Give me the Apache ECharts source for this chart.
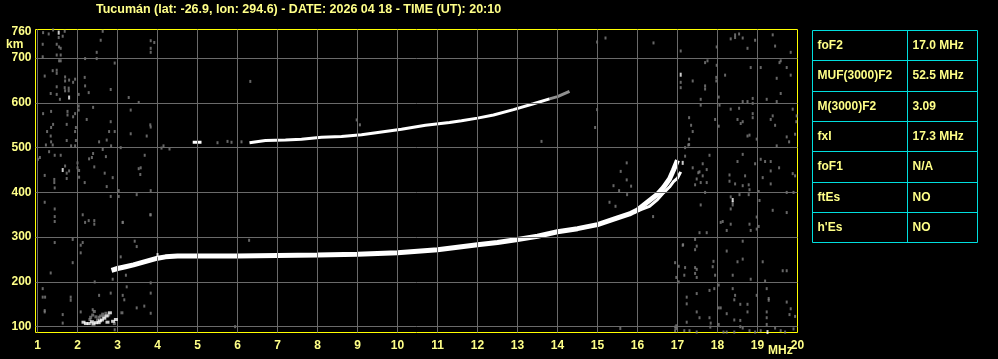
<!DOCTYPE html>
<html><head><meta charset="utf-8">
<script src="https://cdn.jsdelivr.net/npm/echarts@6/dist/echarts.min.js"></script>
<style>html,body{margin:0;padding:0;background:#000;}#c{width:998px;height:359px;}</style>
</head><body><div id="c"></div>
<script>
// ---------- data ----------
const titleText = 'Tucumán (lat: -26.9, lon: 294.6) - DATE: 2026 04 18 - TIME (UT): 20:10';
const freqTicks = [1,2,3,4,5,6,7,8,9,10,11,12,13,14,15,16,17,18,19,20];
const heightTicks = [100,200,300,400,500,600,700];
const heightLabels = [100,200,300,400,500,600,700,760];
const tableLabels = ['foF2','MUF(3000)F2','M(3000)F2','fxI','foF1','ftEs',"h'Es"];
const tableValues = ['17.0 MHz','52.5 MHz','3.09','17.3 MHz','N/A','NO','NO'];

// F-layer main trace (ordinary, thick)
const fTrace = [[2.85,226],[3.0,230],[3.2,234],[3.4,238],[3.6,243],[3.8,248],[4.0,253],[4.2,256],[4.5,258],[5.0,258],[6.0,258],[7.0,259],[8.0,260],[9.0,262],[10.0,265],[11.0,272],[12.0,283],[12.5,288],[13.0,295],[13.5,302],[14.0,312],[14.5,319],[15.0,328],[15.5,343],[15.8,352],[16.0,361],[16.3,382],[16.5,396],[16.65,411],[16.8,430],[16.9,450],[17.0,472]];
// extraordinary branch near the top
const xTrace = [[15.9,354],[16.1,362],[16.3,369],[16.5,384],[16.65,399],[16.8,412],[16.9,424],[17.0,432],[17.08,446]];
// second hop trace
const f2Trace = [[4.88,512],[5.1,512],null,[6.3,511],[6.7,516],[7.2,517],[7.6,519],[8.1,523],[8.6,525],[9.1,529],[9.6,535],[10.1,541],[10.7,550],[11.3,556],[11.6,560],[12.0,566],[12.4,573],[12.9,585],[13.4,598],[13.8,609]];
const f2Faint = [[13.8,609],[14.0,614],[14.3,626]];
// E-region echoes
const eWhite = [[2.21,107],[2.36,111],[2.46,109],[2.61,115],[2.73,124],[2.81,131],[2.96,116],[2.89,112],[2.28,107],[2.53,109],[2.67,119],[2.4,106],[2.56,113],[2.75,110],[2.15,110]];
const eGray = [[2.38,126],[2.46,122],[2.54,121],[2.63,128],[2.71,130],[2.78,126],[2.5,115],[3.11,131],[2.92,107],[2.31,116],[2.42,134],[2.58,124],[2.33,121],[2.65,123]];
// bright isolated echoes
const whiteDots = [[1.53,757],[1.79,612],[1.63,450],[17.08,663],[17.13,466],[18.38,383],[19.25,88],[4.0,260]];
// gray noise echoes
const grayDots = [
[1.14,757],[1.28,754],[1.39,763],[1.53,746],[1.68,760],[2.63,760],[1.63,749],[1.13,731],[1.48,731],[1.54,725],[1.58,722],[1.48,707],[1.58,707],[1.13,703],[1.54,694],[1.58,694],[2.58,740],[2.48,713],[2.48,699],[3.83,739],[3.92,735],[3.83,722],[3.83,713],[2.93,689],[2.19,699],
[1.38,672],[1.48,673],[1.48,666],[1.18,660],[1.69,658],[1.69,649],[1.79,651],[1.94,653],[1.89,646],[2.18,657],[1.68,634],[1.78,633],[1.78,627],[1.69,627],[1.48,636],[1.56,608],[1.33,621],[1.48,619],[2.19,638],[2.28,623],[2.83,630],[3.28,612],[3.53,601],[2.03,619],
[2.03,593],[2.03,584],[1.94,576],[1.75,581],[1.75,573],[1.89,569],[1.14,576],[1.34,581],[1.39,552],[1.34,545],[1.73,552],[1.96,545],[1.94,536],[1.24,536],[1.33,526],[1.73,516],[1.96,516],[1.34,513],[1.21,506],[1.29,491],[1.38,506],[1.84,504],[1.94,504],[2.39,590],[2.23,563],[2.83,558],[2.93,536],[2.79,536],[3.33,584],[3.33,531],[3.73,526],[3.83,546],[2.54,513],[2.73,517],[2.84,504],[3.08,500],[4.15,504],[4.1,499],
[1.06,478],[1.01,474],[1.43,483],[1.58,483],[1.69,459],[1.73,443],[1.79,448],[2.0,466],[2.0,455],[2.04,449],[2.04,434],[2.29,475],[2.36,478],[2.39,487],[2.63,496],[2.71,480],[2.42,457],[2.68,443],[2.88,433],[3.53,453],[3.58,455],[3.68,483],[3.57,440],[1.18,438],[1.42,429],[1.73,431],
[1.42,422],[1.43,410],[2.18,422],[2.73,413],[3.03,404],[3.03,391],[2.83,391],[3.48,395],[3.83,404],[1.18,378],[1.43,363],[1.43,346],[1.43,335],[2.13,350],[2.19,333],[2.28,337],[2.42,337],[2.42,329],[3.13,333],[3.83,350],[1.43,288],[1.88,295],[2.08,282],[2.13,288],[2.08,265],[3.43,291],[3.48,279],[1.88,243],[1.33,220],[3.08,256],[3.21,215],[2.88,206],[2.43,200],[3.83,198],[1.13,185],[1.13,166],[1.19,166],[1.83,166],[1.83,159],[2.54,170],[2.83,175],[3.13,170],[3.17,160],[3.23,189],[3.83,175],[1.18,136],[1.18,133],[1.63,127],[1.63,108],[2.08,133],[2.38,138],[3.48,142],[3.67,146],[3.83,130],[2.93,93],
[3.82,551],[6.32,648],[8.98,562],[9.06,551],[13.6,514],[14.94,545],[14.99,585],[3.82,350],[3.13,333],[6.29,293],[5.94,100],[15.57,96],[15.4,415],[15.84,414],[15.73,466],[15.58,447],[15.73,428],[15.74,395],[15.54,404],[15.3,378],[15.45,369],[16.39,346],[17.27,506],[17.52,444],[17.48,430],[17.14,283],[17.48,280],[14.99,736],[15.2,745],[16.4,734],[5.75,514],[5.85,512],[6.1,513],[5.5,511],[4.3,497],
[18.33,743],[18.44,752],[18.44,746],[18.54,754],[18.63,745],[18.75,722],[18.94,740],[19.38,752],[19.44,727],[19.83,713],[17.08,716],[17.98,725],[17.69,690],[17.75,694],[17.98,684],[18.19,662],[18.83,679],[19.08,679],[19.55,690],[19.58,694],[19.73,679],[19.83,662],[19.48,655],[17.97,657],[17.97,649],[17.38,649],[17.08,646],[17.08,634],[17.69,638],[17.69,631],[17.58,608],[17.58,595],[18.03,613],[18.05,595],[18.33,586],[18.54,588],[18.63,603],[18.75,603],[18.88,610],[18.88,599],[19.23,608],[19.48,603],[19.58,621],[19.88,586],[19.98,571],[19.97,558],[18.88,576],[18.88,567],[18.5,563],[18.58,554],[18.63,558],[19.38,571],[19.33,563],[19.44,550],[17.29,567],[17.34,550],[17.38,536],[17.94,563],[18.03,548],[18.75,526],[18.8,528],[18.98,519],[19.73,524],[19.79,513],[19.94,530],[19.48,504],[17.29,519],[17.29,507],[17.19,500],[17.8,483],[18.63,485],[18.5,469],[18.94,464],[19.08,474],[19.19,469],[19.33,469],[19.33,448],[19.54,455],[19.88,442],[19.94,437],[17.63,464],[17.55,446],[17.73,451],[17.63,437],[17.19,481],[17.38,455],[18.3,439],[18.69,437],[19.13,433],
[17.44,417],[17.58,422],[17.73,422],[18.3,425],[18.44,419],[18.63,415],[18.78,417],[18.8,406],[19.03,402],[19.33,419],[19.73,400],[19.9,400],[17.69,400],[18.33,390],[18.38,378],[18.38,372],[19.05,382],[18.55,395],[18.78,395],[17.58,372],[18.33,363],[19.38,360],[19.73,355],[18.98,345],[18.13,335],[18.08,333],[18.33,329],[18.8,329],[19.03,324],[18.98,318],[18.83,315],[18.23,315],[17.55,310],[17.73,310],[17.44,295],[18.63,291],[17.13,282],[17.44,272],[18.23,269],[17.9,246],[18.5,245],[18.63,251],[19.13,245],[16.94,243],[17.03,235],[17.19,232],[17.44,232],[17.48,228],[17.88,234],[17.17,215],[17.44,219],[17.48,210],[17.94,215],[18.38,215],[18.83,206],[19.63,225],[19.73,225],[16.97,210],[17.03,200],[19.19,202],[18.03,193],[18.38,185],[17.8,181],[17.48,174],[17.92,185],[19.23,185],[17.23,166],[17.23,151],[18.44,170],[18.98,170],[19.28,163],[19.28,159],[19.73,155],[19.83,140],[19.94,123],[19.8,127],[17.48,133],[18.03,142],[18.08,142],[18.23,129],[18.57,150],[18.75,150],[18.75,133],[18.42,160],[17.8,120],[17.55,120],[17.83,108],[17.82,99],[17.23,110],[18.03,105],[18.42,115],[18.57,114],[18.57,100],[19.23,133],[19.23,120],[19.23,105],[19.44,97],[19.58,91],[16.94,99],[16.94,91],[17.17,91],[17.3,91],[17.48,88],[18.15,88],[18.23,88],[18.42,88],[18.63,97],[18.8,91],[18.94,88],[19.08,91],[19.69,88],[19.9,95],[16.97,96],[16.97,102]
];

// ---------- chart ----------
const YEL = '#ffff00', TXT = '#ffff88', GRID = '#6a6a6a', CYAN = '#00dede';
const FONT = 'Liberation Sans';
const chart = echarts.init(document.getElementById('c'), null, {renderer:'canvas'});

const gridLinesData = freqTicks.filter(f => f < 20).map(f => ({xAxis: f}))
  .concat(heightTicks.map(h => ({yAxis: h})));

// table graphics built from arrays
const tbl = {x0: 812.5, xm: 907.5, x1: 977.5, y0: 30.5, rowH: 30.35};
const graphics = [];
graphics.push({type:'rect', shape:{x:tbl.x0, y:tbl.y0, width:tbl.x1-tbl.x0, height:Math.round(tbl.rowH*tableLabels.length)}, style:{fill:'none', stroke:CYAN, lineWidth:1}});
graphics.push({type:'line', shape:{x1:tbl.xm, y1:tbl.y0, x2:tbl.xm, y2:tbl.y0+Math.round(tbl.rowH*tableLabels.length)}, style:{stroke:CYAN, lineWidth:1}});
tableLabels.forEach((lab, i) => {
  const yc = tbl.y0 + tbl.rowH*(i+0.5);
  const yl = tbl.y0 + Math.round(tbl.rowH*i);
  if (i > 0) graphics.push({type:'line', shape:{x1:tbl.x0, y1:yl, x2:tbl.x1, y2:yl}, style:{stroke:CYAN, lineWidth:1}});
  graphics.push({type:'text', x:tbl.x0+5, y:yc, style:{text:lab, fill:TXT, font:'bold 12px '+FONT, textVerticalAlign:'middle', verticalAlign:'middle'}});
  graphics.push({type:'text', x:tbl.xm+5, y:yc, style:{text:tableValues[i], fill:TXT, font:'bold 12px '+FONT, textVerticalAlign:'middle', verticalAlign:'middle'}});
});
graphics.push({type:'text', x:6, y:39, style:{text:'km', fill:TXT, font:'bold 12px '+FONT}});
graphics.push({type:'text', x:768, y:345, style:{text:'MHz', fill:TXT, font:'bold 12px '+FONT}});

chart.setOption({
  backgroundColor:'#000',
  animation:false,
  title:{text:titleText, left:91, top:-2, textStyle:{color:TXT, fontSize:12.5, fontWeight:'bold', fontFamily:FONT}},
  grid:{left:35.5, right:200.5, top:29.5, bottom:26.5, show:true, borderColor:YEL, borderWidth:1, backgroundColor:'#000'},
  xAxis:{type:'value', min:0.95, max:20, axisLine:{show:false}, axisTick:{show:false}, splitLine:{show:false},
    axisLabel:{customValues:freqTicks, color:TXT, fontSize:12, fontWeight:'bold', fontFamily:FONT, margin:7, showMinLabel:true, showMaxLabel:true}},
  yAxis:{type:'value', min:87, max:764, axisLine:{show:false}, axisTick:{show:false}, splitLine:{show:false},
    axisLabel:{customValues:heightLabels, color:TXT, fontSize:12, fontWeight:'bold', fontFamily:FONT, margin:4, showMinLabel:true, showMaxLabel:true}},
  graphic: graphics,
  series:[
    {type:'line', data:[], silent:true, markLine:{silent:true, symbol:['none','none'], label:{show:false}, lineStyle:{color:GRID, type:'solid', width:1}, data:gridLinesData}, z:1},
    {type:'scatter', data:grayDots, symbol:'rect', symbolSize:[2,3], itemStyle:{color:'#808080'}, z:2, silent:true},
    {type:'scatter', data:eGray, symbol:'rect', symbolSize:[3,3], itemStyle:{color:'#808080'}, z:2, silent:true},
    {type:'line', data:f2Faint, showSymbol:false, lineStyle:{color:'#909090', width:3}, z:3, silent:true},
    {type:'line', data:f2Trace, showSymbol:false, connectNulls:false, lineStyle:{color:'#ffffff', width:3}, z:4, silent:true},
    {type:'line', data:fTrace, showSymbol:false, lineStyle:{color:'#ffffff', width:5}, z:4, silent:true},
    {type:'line', data:xTrace, showSymbol:false, lineStyle:{color:'#ffffff', width:3}, z:4, silent:true},
    {type:'scatter', data:eWhite, symbol:'rect', symbolSize:[4,3], itemStyle:{color:'#ffffff'}, z:5, silent:true},
    {type:'scatter', data:whiteDots, symbol:'rect', symbolSize:[2,4], itemStyle:{color:'#ffffff'}, z:5, silent:true}
  ]
});
</script></body></html>
